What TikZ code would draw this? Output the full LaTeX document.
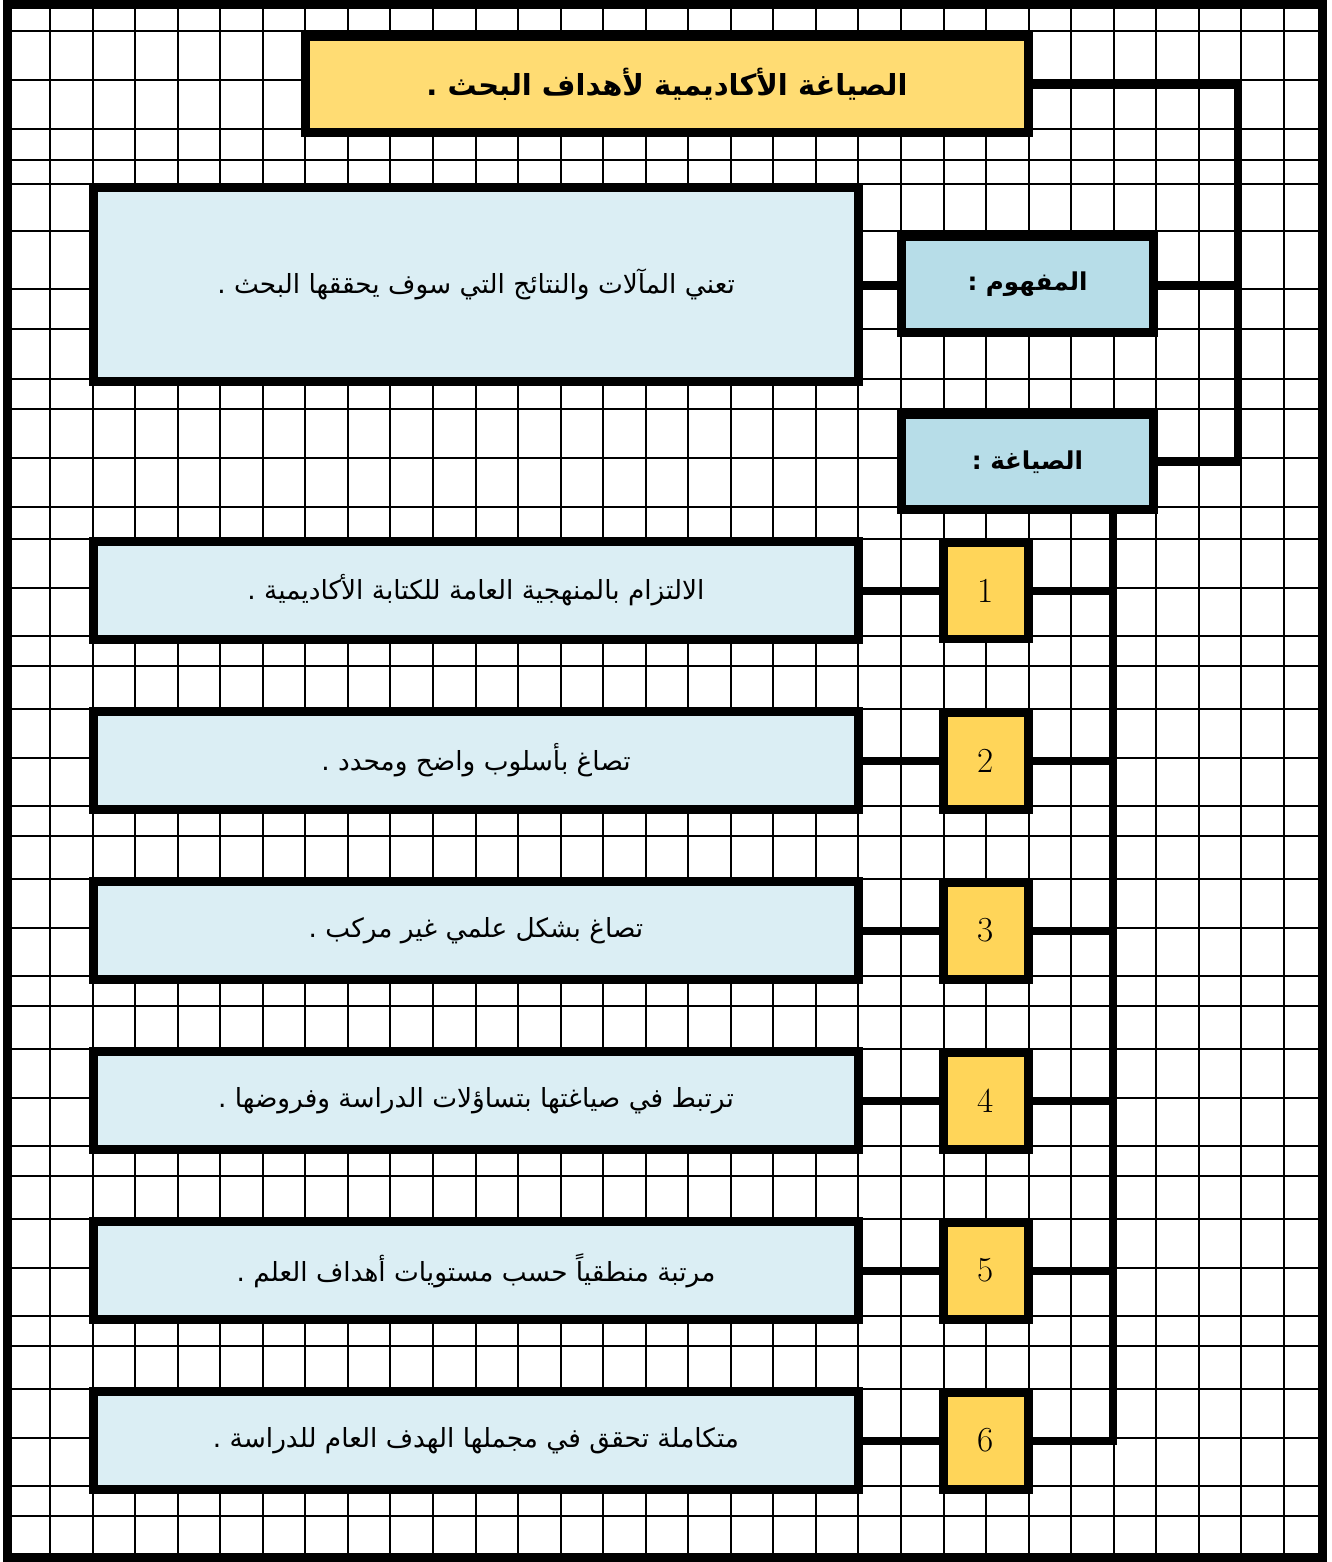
\documentclass[tikz,border=0pt]{standalone}
\usepackage{fontspec}
\newfontfamily\arabicfont[Script=Arabic]{DejaVu Sans}
\TeXXeTstate=1
\definecolor{titlegold}{HTML}{FFDC73}
\definecolor{numgold}{HTML}{FFD559}
\definecolor{paleblue}{HTML}{DBEEF4}
\definecolor{headblue}{HTML}{B7DDE8}
\tikzset{
  box/.style={draw=black, line width=0.18cm, rectangle, inner sep=0pt, align=center},
  itembox/.style={box, fill=paleblue, minimum width=15.3cm, minimum height=1.96cm,
    font=\arabicfont\fontsize{15}{18}\selectfont},
  numbox/.style={box, fill=numgold, minimum width=1.7cm, minimum height=1.94cm,
    font=\fontsize{20}{20}\selectfont},
  headbox/.style={box, fill=headblue, minimum width=5.04cm, minimum height=1.92cm,
    font=\arabicfont\bfseries\fontsize{14}{17}\selectfont},
  conn/.style={line width=0.16cm},
  gridline/.style={line width=0.04cm}
}
\begin{document}
\begin{tikzpicture}[x=0.02cm, y=-0.02cm]
  \useasboundingbox (0,0) rectangle (1332,1562);
  % squared paper
  \foreach \i in {0,...,29}
    \draw[gridline] ({50+42.55*\i},8) -- ({50+42.55*\i},1553);
  \foreach \y in {31,80,129,160,184,231,289,329,379,409,458,507}
    \draw[gridline] (12,\y) -- (1318,\y);
  \foreach \k in {0,...,5}
    \foreach \d in {0,49,97,127}
      \draw[gridline] (12,{539+170*\k+\d}) -- (1318,{539+170*\k+\d});
  \draw[line width=0.18cm] (7.5,4) rectangle (1322.5,1557.5);

  \node[box, fill=titlegold, minimum width=14.46cm, minimum height=1.92cm,
    font=\arabicfont\bfseries\fontsize{16.5}{19}\selectfont] (title) at (667,84.5)
    {\beginR الصياغة الأكاديمية لأهداف البحث .\endR};
  \node[itembox, minimum height=3.88cm] (concept) at (476,284.5)
    {\beginR تعني المآلات والنتائج التي سوف يحققها البحث .\endR};
  \node[headbox] (mafhoum) at (1027.5,284.5) {\beginR المفهوم :\endR};
  \node[headbox, minimum height=1.9cm] (siyagha) at (1027.5,462) {\beginR الصياغة :\endR};

  \foreach \n/\txt in {1/{الالتزام بالمنهجية العامة للكتابة الأكاديمية .},
      2/{تصاغ بأسلوب واضح ومحدد .},
      3/{تصاغ بشكل علمي غير مركب .},
      4/{ترتبط في صياغتها بتساؤلات الدراسة وفروضها .},
      5/{مرتبة منطقياً حسب مستويات أهداف العلم .},
      6/{متكاملة تحقق في مجملها الهدف العام للدراسة .}} {
    \node[itembox] (item\n) at (476,{590.5+170*(\n-1)}) {\beginR\txt\endR};
    \node[numbox] (num\n) at (986,{590.5+170*(\n-1)}) {\n};
  }

  \coordinate (topbend) at (1238,84.5);
  \coordinate (spine) at (1112.5,0);
  \draw[conn] (title.east) -- (topbend) |- (siyagha.east);
  \draw[conn] (mafhoum.east) -- (mafhoum.east -| topbend);
  \draw[conn] (mafhoum.west) -- (concept.east);
  \draw[conn] (siyagha.south -| spine) |- (num6.east);
  \foreach \n in {1,...,5}
    \draw[conn] (num\n.east) -- (num\n.east -| spine);
  \foreach \n in {1,...,6}
    \draw[conn] (item\n.east) -- (num\n.west);
\end{tikzpicture}
\end{document}
